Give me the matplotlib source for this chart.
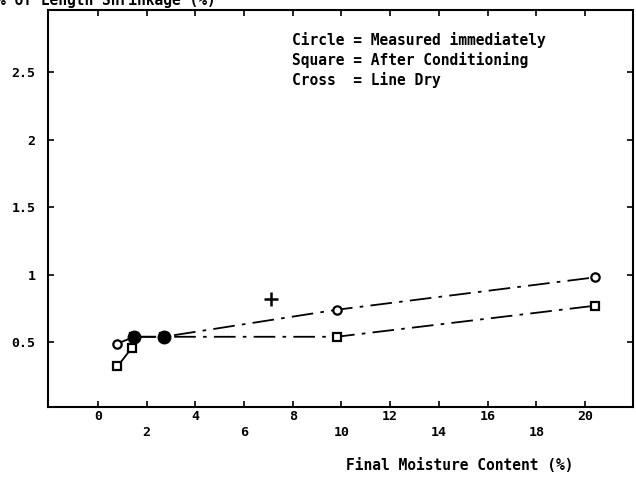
import matplotlib
matplotlib.use("Agg")
import matplotlib.pyplot as plt

# shrinkage vs final moisture content
circle_x = [0.8, 1.5, 2.7, 9.8, 20.4]
circle_y = [0.49, 0.54, 0.54, 0.74, 0.98]
square_x = [0.8, 1.4, 1.5, 2.7, 9.8, 20.4]
square_y = [0.32, 0.46, 0.54, 0.54, 0.54, 0.77]
cross_x = [7.1]
cross_y = [0.82]

xticks = list(range(0, 21, 2))
yticks = [0.5, 1, 1.5, 2, 2.5]
ytick_labels = ["0.5", "1", "1.5", "2", "2.5"]

legend_lines = ["Circle = Measured immediately",
                "Square = After Conditioning",
                "Cross  = Line Dry"]

plt.rcParams['font.family'] = ['DejaVu Sans Mono']
plt.rcParams['font.weight'] = 'bold'

fig = plt.figure(figsize=(6.36, 4.78), dpi=100)
ax = fig.add_axes([48/636, 1-407/478, (633-48)/636, (407-10)/478])

dash = (12, 4, 2, 4)
mk = dict(color='black', mfc='white', mec='black', ms=6, mew=1.6)

# solid leading segments, dash-dot for the rest
ax.plot(circle_x[:2], circle_y[:2], '-', lw=1.3, color='black')
ax.plot(circle_x[1:], circle_y[1:], lw=1.3, color='black', dashes=dash)
ax.plot(circle_x, circle_y, 'o', **mk)

ax.plot(square_x[:3], square_y[:3], '-', lw=1.3, color='black')
ax.plot(square_x[2:], square_y[2:], lw=1.3, color='black', dashes=dash)
ax.plot(square_x, square_y, 's', **mk)

# circle and square on top of each other print as a solid blob
shared = [p for p in zip(circle_x, circle_y) if p in set(zip(square_x, square_y))]
ax.plot([p[0] for p in shared], [p[1] for p in shared], 'o',
        color='black', ms=9)

ax.plot(cross_x, cross_y, '+', color='black', ms=10, mew=1.8)

ax.set_xlim(-2.05, 21.97)
ax.set_ylim(0.02, 2.96)

ax.set_xticks(xticks)
ax.set_xticklabels([str(v) if i % 2 == 0 else "\n" + str(v)
                    for i, v in enumerate(xticks)], fontsize=9.5, linespacing=1.3)
ax.set_yticks(yticks)
ax.set_yticklabels(ytick_labels, fontsize=9.5)
ax.tick_params(direction='in', length=4, width=1.2, top=True, right=True,
               pad=2)
ax.tick_params(axis='y', pad=9)
for s in ax.spines.values():
    s.set_linewidth(1.5)

fig.text(292/636, 1-32/478, "\n".join(legend_lines), fontsize=10.5,
         va='top', ha='left', linespacing=1.3)

fig.text(460/636, 1-466/478, "Final Moisture Content (%)", fontsize=10.5,
         ha='center', va='center')

fig.text(-3/636, 1.0, "% of Length Shrinkage (%)", fontsize=10.5,
         ha='left', va='center')

fig.savefig("out.png", dpi=100)
